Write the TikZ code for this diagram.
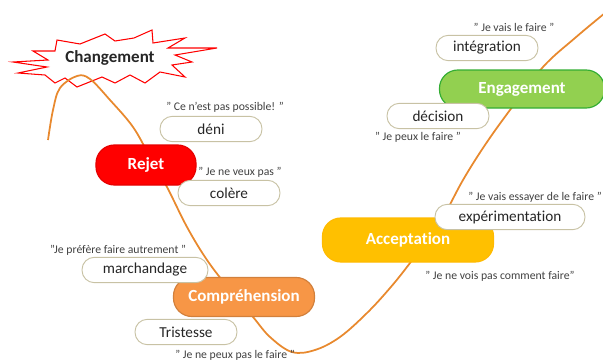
\documentclass[tikz,border=0pt]{standalone}
\usepackage{fontspec}
\setmainfont{Carlito}[Ligatures=NoCommon]

\definecolor{rejetred}{HTML}{FF0000}
\definecolor{comporange}{HTML}{F79646}
\definecolor{accyellow}{HTML}{FFC000}
\definecolor{enggreen}{HTML}{92D050}
\definecolor{pillline}{HTML}{C8C2A4}
\definecolor{curveorange}{HTML}{E8892E}

\begin{document}
\begin{tikzpicture}[x=0.03cm,y=-0.03cm,
  stage/.style={rounded corners=0.55cm, line width=1pt, text=white,
    font=\fontsize{14.5}{16}\selectfont\bfseries},
  pill/.style={draw=pillline, fill=white, line width=0.8pt, rounded corners=0.37cm,
    minimum width=3.06cm, minimum height=0.76cm,
    font=\fontsize{13}{15}\selectfont, text=black!85},
  saying/.style={inner sep=0pt, font=\fontsize{10}{12}\selectfont, text=black!75}]

  \useasboundingbox (0,0) rectangle (603,360);

  \draw[red, fill=white, line width=0.9pt, line join=miter]
    (13,62) -- (48,60) -- (33,51) -- (55,51) -- (57,40) -- (80,44) -- (105,34)
    -- (115,41) -- (134,38) -- (152,30) -- (153,43) -- (185,38) -- (168,48)
    -- (217,48) -- (175,55) -- (192,62) -- (172,65) -- (185,77) -- (160,72)
    -- (145,83) -- (130,75) -- (115,83) -- (102,77) -- (77,87) -- (65,78)
    -- (55,83) -- (45,75) -- (18,73) -- (47,67) -- cycle;
  \node[font=\fontsize{14.5}{16}\selectfont\bfseries, text=black!85]
    (changement) at (110,58) {Changement};

  \draw[curveorange, line width=1.5pt] plot[smooth, tension=0.6] coordinates {
    (48,140) (53,110) (60,88) (77,76) (90,79) (110,100) (133,127) (150,157)
    (167,187) (187,227) (207,260) (230,290) (253,317) (270,337) (292,352)
    (315,350) (340,337) (367,313) (390,288) (410,263) (440,222) (463,180)
    (485,145) (510,110) (543,67) (575,38) (605,13)};

  \node[stage, draw=red!90!black, fill=rejetred, minimum width=3cm, minimum height=1.2cm]
    (rejet) at (146,165) {Rejet};
  \node[stage, draw=comporange!85!black, fill=comporange, minimum width=4.23cm, minimum height=1.17cm]
    (comprehension) at (244,297) {Compréhension};
  \node[stage, draw=accyellow!90!orange, fill=accyellow, minimum width=5.13cm, minimum height=1.32cm]
    (acceptation) at (408,240) {Acceptation};
  \node[stage, draw=green!60!black!80, fill=enggreen, minimum width=4.95cm, minimum height=1.14cm]
    (engagement) at (522,89) {Engagement};

  \node[pill] (deni) at (211,129) {déni};
  \node[pill] (colere) at (229,193) {colère};
  \node[pill, minimum width=3.78cm] (marchandage) at (145,270) {marchandage};
  \node[pill] (tristesse) at (186,332) {Tristesse};
  \node[pill, minimum width=4.5cm] (experimentation) at (510,217) {expérimentation};
  \node[pill] (decision) at (438,116) {décision};
  \node[pill] (integration) at (487,48) {intégration};

  \node[saying] (possible) at (225,107) {" Ce n'est pas possible! "};
  \node[saying] (veuxpas) at (240,172) {" Je ne veux pas "};
  \node[saying] (autrement) at (118,250) {"Je préfère faire autrement "};
  \node[saying] (peuxpas) at (235,355) {" Je ne peux pas le faire "};
  \node[saying] (essayer) at (535,197) {" Je vais essayer  de le faire "};
  \node[saying] (voispas) at (500,276) {" Je ne vois pas comment faire"};
  \node[saying] (peuxfaire) at (418,137) {" Je peux le faire "};
  \node[saying] (vaisfaire) at (514,27) {" Je vais le faire "};

\end{tikzpicture}
\end{document}
